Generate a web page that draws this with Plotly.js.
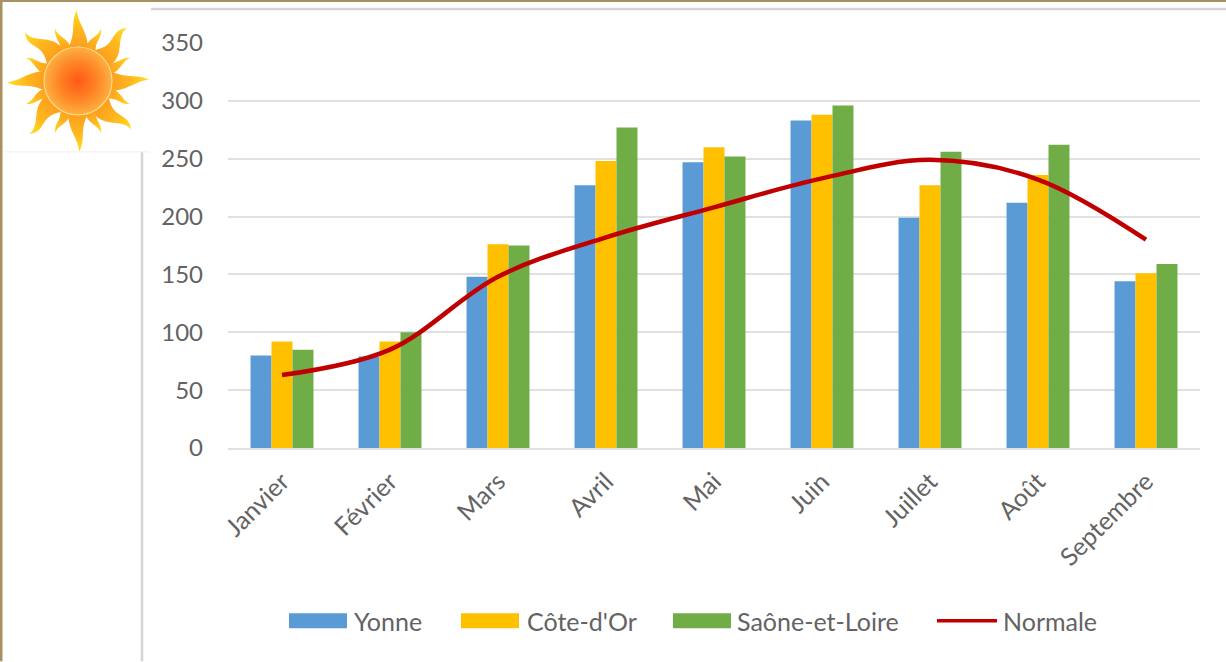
<!DOCTYPE html>
<html>
<head>
<meta charset="utf-8">
<script src="https://cdn.plot.ly/plotly-3.0.1.min.js"></script>
<style>html,body{margin:0;padding:0;background:#fff}#chart{width:1226px;height:662px}</style>
</head>
<body>
<div id="chart"></div>
<script>
const mois = ['Janvier','Février','Mars','Avril','Mai','Juin','Juillet','Août','Septembre'];
const yonne = [80, 79, 148, 227, 247, 283, 199, 212, 144];
const coteDor = [92, 92, 176, 248, 260, 288, 227, 236, 151];
const saoneEtLoire = [85, 100, 175, 277, 252, 296, 256, 262, 159];
const normale = [63, 85, 148, 182, 208, 233, 249, 232, 180];

const BLEU = '#5B9BD5', OR = '#FFC000', VERT = '#70AD47', ROUGE = '#C00000';
const TEXTE = '#636363', GRILLE = '#E0E0E0', CADRE = '#A89060', FILET = '#D4D4D4';
const POLICE = 'Lato, "Open Sans", sans-serif';

// Plot rectangle, in page pixels
const G = 228, D = 1200, H = 43, B = 448.5;
const px = x => (x - G) / (D - G);
const py = y => (B - y) / (B - H);

function barres(nom, valeurs, couleur) {
  return {type: 'bar', name: nom, x: mois, y: valeurs, marker: {color: couleur, line: {width: 0}}};
}

const traces = [
  barres('Yonne', yonne, BLEU),
  barres("Côte-d'Or", coteDor, OR),
  barres('Saône-et-Loire', saoneEtLoire, VERT),
  {type: 'scatter', mode: 'lines', name: 'Normale', x: mois, y: normale,
   line: {color: ROUGE, width: 4.5, shape: 'spline', smoothing: 1}}
];

// Decorative sun, as an inline SVG: each ray is a tapered, wavy flame
function flamme(angle, L, l, a) {
  const gauche = [], droite = [];
  for (let i = 0; i <= 24; i++) {
    const t = i / 24;
    const r = 30 + (L - 30) * t;
    const c = a * Math.sin(2 * Math.PI * t * 0.9) * (0.4 + 0.6 * t);
    const w = l * Math.pow(1 - t, 0.95);
    gauche.push((c - w).toFixed(2) + ',' + (-r).toFixed(2));
    droite.unshift((c + w).toFixed(2) + ',' + (-r).toFixed(2));
  }
  return `<polygon transform="rotate(${angle})" fill="url(#r)" points="${gauche.concat(droite).join(' ')}"/>`;
}
function soleil() {
  let r = '';
  for (let i = 0; i < 4; i++) r += flamme(i * 90, 71, 10.5, 2);
  for (let i = 0; i < 4; i++) r += flamme(45 + i * 90, 72, 12, 5);
  for (let i = 0; i < 8; i++) r += flamme(22.5 + i * 45, 57, 6.5, i % 2 ? 2 : -2);
  const svg = `<svg xmlns="http://www.w3.org/2000/svg" width="150" height="150" viewBox="-75 -75 150 150">
    <defs>
      <linearGradient id="r" x1="0" y1="1" x2="0" y2="0">
        <stop offset="0" stop-color="#FB9A1E"/><stop offset="0.55" stop-color="#FFB81E"/><stop offset="1" stop-color="#FFE01E"/>
      </linearGradient>
      <radialGradient id="c"><stop offset="0" stop-color="#FF5A14"/><stop offset="0.55" stop-color="#FE8426"/><stop offset="1" stop-color="#FDB040"/></radialGradient>
    </defs>${r}<circle r="34" fill="url(#c)" stroke="#FDD78A" stroke-width="1.2"/></svg>`;
  return 'data:image/svg+xml;base64,' + btoa(svg);
}

// Page furniture and hand-laid legend
const trait = (x0, y0, x1, y1, couleur, w) => ({type: 'line', xref: 'paper', yref: 'paper',
  x0: px(x0), y0: py(y0), x1: px(x1), y1: py(y1), line: {color: couleur, width: w}});
const pave = (x0, couleur) => ({type: 'rect', xref: 'paper', yref: 'paper',
  x0: px(x0), x1: px(x0 + 58), y0: py(629), y1: py(614), fillcolor: couleur, line: {width: 0}});

const shapes = [
  trait(0, 1, 1226, 1, CADRE, 2),
  trait(1, 0, 1, 662, CADRE, 3),
  trait(151, 9, 1226, 9, FILET, 2.5),
  trait(142, 152, 142, 662, FILET, 2.5),
  trait(5, 152, 150, 152, '#F0F0F0', 1),
  pave(289, BLEU), pave(461, OR), pave(673, VERT),
  trait(937, 621.5, 997, 621.5, ROUGE, 3.5)
];

const legende = [[traces[0].name, 353], [traces[1].name, 526], [traces[2].name, 736], [traces[3].name, 1002]]
  .map(([texte, x]) => ({xref: 'paper', yref: 'paper', x: px(x), y: py(621.5), text: texte,
    showarrow: false, xanchor: 'left', yanchor: 'middle', borderpad: 0,
    font: {family: POLICE, size: 25, color: TEXTE}}));

const layout = {
  width: 1226, height: 662,
  margin: {l: G, r: 1226 - D, t: H, b: 662 - B},
  paper_bgcolor: '#fff', plot_bgcolor: '#fff',
  showlegend: false,
  barmode: 'group', bargap: 0.417, bargroupgap: 0,
  font: {family: POLICE, color: TEXTE},
  xaxis: {type: 'category', range: [-0.5, 8.5], tickangle: -45, ticks: '', ticklabelstandoff: 7,
          tickfont: {family: POLICE, size: 25, color: TEXTE},
          showline: true, linecolor: GRILLE, linewidth: 2, showgrid: false, zeroline: false},
  yaxis: {range: [0, 350], tick0: 0, dtick: 50, ticks: '', ticklabelstandoff: 24,
          tickfont: {family: POLICE, size: 24, color: TEXTE},
          showline: false, gridcolor: GRILLE, gridwidth: 2, zeroline: false},
  shapes: shapes,
  annotations: legende,
  images: [{source: soleil(), xref: 'paper', yref: 'paper', x: px(3), y: py(6), sizex: 150 / (D - G), sizey: 150 / (B - H),
            xanchor: 'left', yanchor: 'top', sizing: 'stretch', layer: 'above'}]
};

Plotly.newPlot('chart', traces, layout, {displayModeBar: false, staticPlot: true});
</script>
</body>
</html>
